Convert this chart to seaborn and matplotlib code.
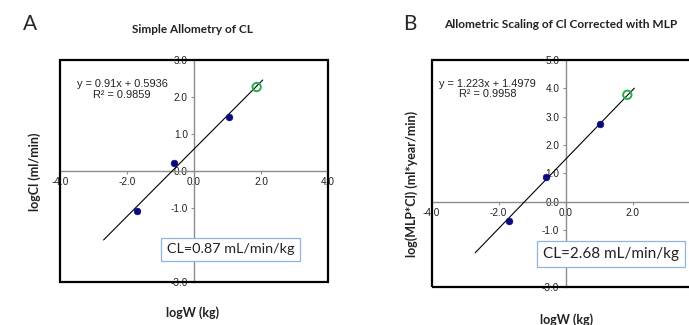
import numpy as np
import seaborn as sns
import matplotlib.pyplot as plt
from matplotlib.patches import Rectangle
from matplotlib.ticker import FormatStrFormatter, MultipleLocator

# Panel A - simple allometry
a_logw = [-1.70, -0.59, 1.05]
a_logcl = [-1.09, 0.21, 1.46]
a_pred_x = [1.87]
a_pred_y = [2.27]
a_slope, a_icpt = 0.91, 0.5936

# Panel B - corrected with MLP
b_logw = [-1.68, -0.60, 1.02]
b_logcl = [-0.69, 0.88, 2.74]
b_pred_x = [1.84]
b_pred_y = [3.77]
b_slope, b_icpt = 1.223, 1.4979

fit_range = [-2.7, 2.05]

sns.set_theme(style="white")
plt.rcParams["font.family"] = ["Liberation Sans", "DejaVu Sans"]
plt.rcParams["axes.unicode_minus"] = False

fig = plt.figure(figsize=(6.89, 3.25), dpi=100)
fig.patch.set_facecolor("white")

ax_a = fig.add_axes([0.0871, 0.1323, 0.389, 0.683])
ax_b = fig.add_axes([0.6265, 0.118, 0.389, 0.6975])


def draw_panel(ax, xs, ys, px, py, slope, icpt, ylim, eq, r2, eq_pos, cl_text, cl_pos, cl_size):
    fx = np.array(fit_range)
    sns.lineplot(x=fx, y=slope * fx + icpt, color="black", lw=0.8, ax=ax, zorder=3)
    sns.scatterplot(x=xs, y=ys, color="#0a0a80", s=24, edgecolor="#0a0a80", ax=ax, zorder=4)
    sns.scatterplot(x=px, y=py, facecolor="none", edgecolor="#22b04b", linewidth=1.4,
                    s=36, ax=ax, zorder=4)
    ax.set_xlim(-4, 4)
    ax.set_ylim(*ylim)
    ax.set_facecolor("white")
    for side in ["left", "bottom"]:
        ax.spines[side].set_position("zero")
        ax.spines[side].set_color("#8c8c8c")
        ax.spines[side].set_linewidth(1.0)
    for side in ["top", "right"]:
        ax.spines[side].set_visible(False)
    ax.xaxis.set_major_locator(MultipleLocator(2))
    ax.yaxis.set_major_locator(MultipleLocator(1))
    ax.xaxis.set_major_formatter(FormatStrFormatter("%.1f"))
    ax.yaxis.set_major_formatter(FormatStrFormatter("%.1f"))
    ax.tick_params(axis="both", labelsize=7.2, colors="#8c8c8c", labelcolor="#222222",
                   direction="out", length=2.5, width=0.8, pad=2,
                   bottom=True, left=True)
    ax.add_patch(Rectangle((0, 0), 1, 1, transform=ax.transAxes, fill=False,
                           edgecolor="black", lw=1.6, clip_on=False, zorder=10))
    ax.text(eq_pos[0], eq_pos[1], eq + "\n" + r2, fontsize=7.9, ha="center",
            va="center", multialignment="center", color="#222222", linespacing=1.05,
            zorder=6)
    ax.text(cl_pos[0], cl_pos[1], cl_text, fontsize=cl_size, family=["Lato", "DejaVu Sans"],
            ha="center", va="center", color="#222222", zorder=7,
            bbox=dict(boxstyle="square,pad=0.4", facecolor="white",
                      edgecolor="#8fb4dd", lw=0.9))


draw_panel(ax_a, a_logw, a_logcl, a_pred_x, a_pred_y, a_slope, a_icpt, (-3, 3),
           "y = 0.91x + 0.5936", "R² = 0.9859", (-2.15, 2.2),
           "CL=0.87 mL/min/kg", (1.10, -2.12), 10.4)
draw_panel(ax_b, b_logw, b_logcl, b_pred_x, b_pred_y, b_slope, b_icpt, (-3, 5),
           "y = 1.223x + 1.4979", "R² = 0.9958", (-2.34, 3.98),
           "CL=2.68 mL/min/kg", (1.36, -1.85), 11.0)

lato = ["Lato", "DejaVu Sans"]
fig.text(0.033, 0.908, "A", fontsize=15, family=lato, va="baseline", ha="left")
fig.text(0.585, 0.908, "B", fontsize=15, family=lato, va="baseline", ha="left")
fig.text(0.279, 0.908, "Simple Allometry of CL", fontsize=8.5, fontweight="bold",
         family=lato, ha="center", va="center", color="#222222")
fig.text(0.8135, 0.9246, "Allometric Scaling of Cl Corrected with MLP", fontsize=8.6,
         fontweight="bold", family=lato, ha="center", va="center", color="#222222")
fig.text(0.051, 0.472, "logCl (ml/min)", fontsize=9.0, fontweight="bold", family=lato,
         rotation=90, ha="center", va="center", color="#222222")
fig.text(0.598, 0.434, "log(MLP*Cl) (ml*year/min)", fontsize=9.0, fontweight="bold",
         family=lato, rotation=90, ha="center", va="center", color="#222222")
fig.text(0.280, 0.037, "logW (kg)", fontsize=9.0, fontweight="bold", family=lato,
         ha="center", va="center", color="#222222")
fig.text(0.823, 0.0154, "logW (kg)", fontsize=9.0, fontweight="bold", family=lato,
         ha="center", va="center", color="#222222")

fig.savefig("out.png", dpi=100)
